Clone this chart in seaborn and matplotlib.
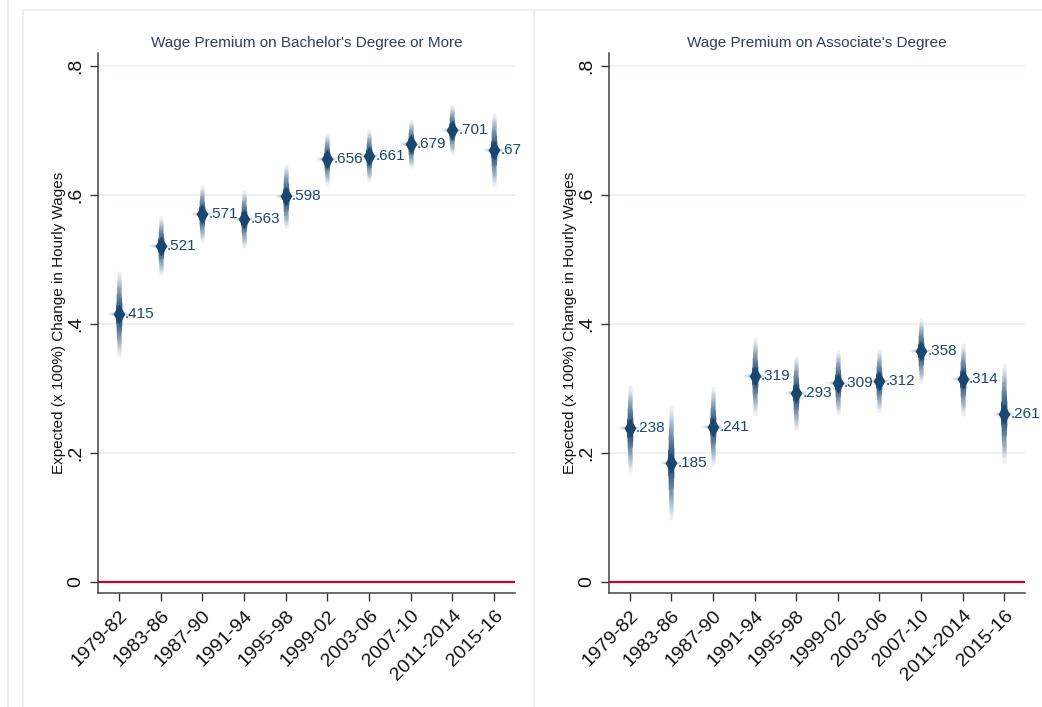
import numpy as np
import pandas as pd
import matplotlib
matplotlib.use("Agg")
import matplotlib.pyplot as plt
from matplotlib.lines import Line2D
from matplotlib.colors import to_rgb
import seaborn as sns

periods = ["1979-82", "1983-86", "1987-90", "1991-94", "1995-98",
           "1999-02", "2003-06", "2007-10", "2011-2014", "2015-16"]

ba_est = [0.415, 0.521, 0.571, 0.563, 0.598, 0.656, 0.661, 0.679, 0.701, 0.670]
ba_lo = [0.349, 0.476, 0.527, 0.518, 0.548, 0.616, 0.621, 0.642, 0.663, 0.613]
ba_hi = [0.482, 0.567, 0.615, 0.608, 0.648, 0.696, 0.701, 0.716, 0.740, 0.727]

aa_est = [0.238, 0.185, 0.241, 0.319, 0.293, 0.309, 0.312, 0.358, 0.314, 0.261]
aa_lo = [0.170, 0.096, 0.180, 0.259, 0.235, 0.259, 0.263, 0.308, 0.258, 0.184]
aa_hi = [0.305, 0.274, 0.302, 0.379, 0.351, 0.359, 0.361, 0.409, 0.370, 0.339]

titles = ["Wage Premium on Bachelor's Degree or More",
          "Wage Premium on Associate's Degree"]
y_label = "Expected (x 100%) Change in Hourly Wages"
y_ticks = [0, 0.2, 0.4, 0.6, 0.8]
y_ticklabels = ["0", ".2", ".4", ".6", ".8"]

NAVY = "#1a476f"
GRID = "#e8f0f2"
FRAME = "#e6eef0"

sns.set_theme(style="white")
plt.rcParams["font.family"] = ["Liberation Sans", "DejaVu Sans"]

fig = plt.figure(figsize=(10.42, 7.07), dpi=100)

# light graph-region frames
W, H = 1042, 707
for x in (8, 23, 534):
    fig.add_artist(Line2D([x / W, x / W], [0, 1 - 10 / H if x != 8 else 1],
                          color=FRAME, lw=1.2, transform=fig.transFigure))
fig.add_artist(Line2D([23 / W, 1], [1 - 10 / H, 1 - 10 / H],
                      color=FRAME, lw=1.2, transform=fig.transFigure))

ax_pos = [[98 / W, 1 - 593 / H, (515 - 98) / W, (593 - 53) / H],
          [609 / W, 1 - 593 / H, (1025 - 609) / W, (593 - 53) / H]]

navy_rgb = np.array(to_rgb(NAVY))


def shade(a):
    """Opaque blend of the navy with white, a in [0, 1]."""
    return tuple(1 - a * (1 - navy_rgb))


def fmt(v):
    s = f"{v:.3f}".rstrip("0")
    return s[1:] if s.startswith("0") else s


def draw_panel(ax, est, lo, hi, title):
    df = pd.DataFrame({"period": periods, "est": est, "lo": lo, "hi": hi})
    xs = np.arange(len(df))
    ax.set_xlim(-0.5, len(df) - 0.5)
    ax.set_ylim(-0.017, 0.82)

    for yv in y_ticks[1:]:
        ax.axhline(yv, color=GRID, lw=1.2, zorder=0)
    ax.axhline(0, color="#c10534", lw=1.6, zorder=1)

    # short faded horizontal stroke through each estimate (nested, outer first)
    m = 20
    for k in range(m, 0, -1):
        t = k / m
        a = 0.6 * (1 - t) ** 1.4 + 0.04
        ax.hlines(df["est"], xs - 0.28 * t, xs + 0.28 * t,
                  color=shade(a), lw=1.6, zorder=2, capstyle="butt")

    # confidence spindles: nested strokes, darkest and widest near the estimate
    n = 40
    for k in range(n, 0, -1):
        t = k / n
        a = max(0.08, 1 - t ** 1.3)
        lw = 4.8 - 2.4 * min(1.0, t * 1.5)
        z = 2.5 - 0.01 * k
        ax.vlines(xs, df["est"], df["est"] + (df["hi"] - df["est"]) * t,
                  color=shade(a), lw=lw, zorder=z, capstyle="butt")
        ax.vlines(xs, df["est"] + (df["lo"] - df["est"]) * t, df["est"],
                  color=shade(a), lw=lw, zorder=z, capstyle="butt")

    sns.scatterplot(x=xs, y=df["est"], ax=ax, marker="d", s=100, color=NAVY,
                    edgecolor=NAVY, linewidth=0, zorder=3)

    for x, v in zip(xs, df["est"]):
        ax.annotate(fmt(v), (x, v), xytext=(4.5, 0), textcoords="offset points",
                    ha="left", va="center", color=NAVY, fontsize=11, zorder=4)

    ax.set_xticks(xs)
    ax.set_xticklabels(df["period"], rotation=45, ha="right",
                       rotation_mode="anchor", fontsize=14, color="#111111")
    ax.set_yticks(y_ticks)
    ax.set_yticklabels(y_ticklabels, rotation=90, va="center",
                       fontsize=14, color="#111111")
    ax.tick_params(axis="both", which="both", length=6, width=1.0,
                   color="#333333", bottom=True, left=True, pad=4)
    ax.set_xlabel("")
    ax.set_ylabel(y_label, fontsize=11, color="#111111", labelpad=1)
    ax.set_title(title, fontsize=11, color="#2e3f63", pad=4)

    for side in ("top", "right"):
        ax.spines[side].set_visible(False)
    for side in ("left", "bottom"):
        ax.spines[side].set_color("#444444")
        ax.spines[side].set_linewidth(1.1)


for pos, est, lo, hi, title in zip(ax_pos, [ba_est, aa_est], [ba_lo, aa_lo],
                                   [ba_hi, aa_hi], titles):
    ax = fig.add_axes(pos)
    draw_panel(ax, est, lo, hi, title)

fig.savefig("out.png", dpi=100)
